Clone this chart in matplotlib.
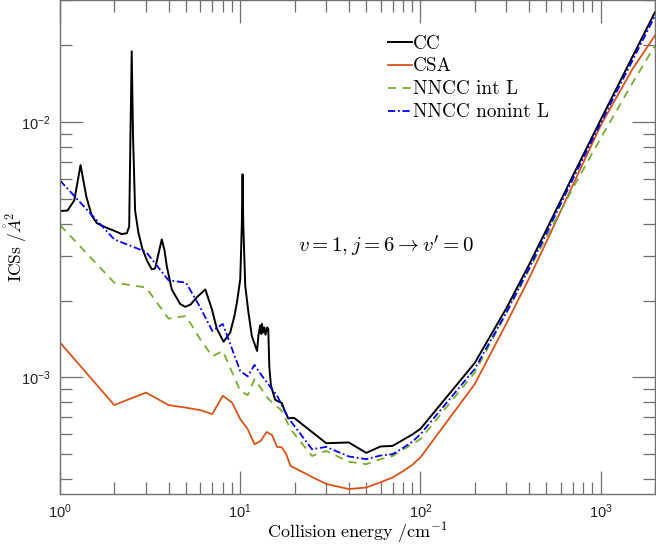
import matplotlib
matplotlib.use("Agg")
import matplotlib.pyplot as plt
from matplotlib.ticker import LogLocator, NullFormatter

# ---------------- data ----------------
cc_E = [1.0, 1.1, 1.2, 1.3, 1.4, 1.5, 1.6, 1.8, 2.0, 2.2, 2.35, 2.42, 2.46, 2.50, 2.54, 2.61,
        2.72, 2.87, 3.05, 3.23, 3.37, 3.5, 3.67, 3.8, 3.91, 4.17, 4.64, 4.95, 5.3, 5.74, 6.4,
        6.96, 7.42, 8.08, 8.8, 9.3, 9.59, 10.0, 10.2, 10.3, 10.4, 10.66, 11.1, 11.6, 12.4,
        12.6, 12.9, 13.1, 13.2, 13.4, 13.6, 13.8, 14.1, 14.3, 14.5, 14.8, 15.6, 16.0, 17.0,
        17.8, 18.5, 19.4, 20, 30, 40, 50, 60, 70, 80, 90, 100, 200, 300, 400, 500, 700,
        1000, 1500, 2000]
cc_val = [4.48e-3, 4.5e-3, 4.93e-3, 6.78e-3, 5.1e-3, 4.3e-3, 4.02e-3, 3.86e-3, 3.75e-3, 3.64e-3,
          3.67e-3, 3.9e-3, 9.0e-3, 1.89e-2, 9.0e-3, 4.5e-3, 3.7e-3, 3.17e-3, 2.85e-3, 2.65e-3,
          2.67e-3, 3.0e-3, 3.47e-3, 3.15e-3, 2.73e-3, 2.21e-3, 1.94e-3, 1.89e-3, 1.93e-3,
          2.06e-3, 2.21e-3, 1.85e-3, 1.55e-3, 1.38e-3, 1.5e-3, 1.75e-3, 1.97e-3, 2.42e-3,
          3.92e-3, 6.24e-3, 3.92e-3, 2.28e-3, 1.8e-3, 1.45e-3, 1.27e-3, 1.45e-3, 1.6e-3,
          1.48e-3, 1.62e-3, 1.5e-3, 1.57e-3, 1.47e-3, 1.57e-3, 1.55e-3, 1.1e-3, 9.3e-4,
          8.2e-4, 8.1e-4, 7.95e-4, 7.3e-4, 6.91e-4, 6.95e-4, 6.93e-4, 5.53e-4, 5.57e-4,
          5.07e-4, 5.37e-4, 5.4e-4, 5.7e-4, 5.98e-4, 6.3e-4, 1.14e-3, 1.87e-3, 2.76e-3,
          3.79e-3, 6.15e-3, 1.02e-2, 1.8e-2, 2.69e-2]

csa_E = [1, 2, 3, 4, 5, 6, 7, 8, 9, 10, 11, 12, 13, 14, 15, 16, 17, 18, 19, 20, 25, 30, 40,
         50, 60, 70, 80, 90, 100, 200, 300, 400, 500, 700, 1000, 1500, 2000]
csa_val = [1.37e-3, 7.8e-4, 8.73e-4, 7.8e-4, 7.62e-4, 7.45e-4, 7.19e-4, 8.48e-4, 7.98e-4,
           6.87e-4, 6.28e-4, 5.48e-4, 5.65e-4, 6.12e-4, 5.96e-4, 5.35e-4, 5.33e-4, 5.01e-4,
           4.51e-4, 4.43e-4, 4.08e-4, 3.83e-4, 3.66e-4, 3.71e-4, 3.89e-4, 4.06e-4, 4.3e-4,
           4.55e-4, 4.87e-4, 9.42e-4, 1.63e-3, 2.44e-3, 3.4e-3, 5.66e-3, 9.7e-3, 1.61e-2,
           2.18e-2]

nn_int_E = [1, 2, 3, 4, 5, 6, 7, 8, 10, 11, 12, 13, 14, 15, 16, 17, 18, 19, 25, 30, 40, 50,
            60, 70, 100, 200, 300, 400, 500, 700, 1000, 1500, 2000]
nn_int_val = [3.95e-3, 2.35e-3, 2.25e-3, 1.70e-3, 1.74e-3, 1.41e-3, 1.21e-3, 1.27e-3, 8.87e-4,
              8.53e-4, 9.85e-4, 9.1e-4, 8.4e-4, 8.0e-4, 7.7e-4, 7.4e-4, 6.8e-4, 6.28e-4,
              4.93e-4, 5.16e-4, 4.68e-4, 4.58e-4, 4.79e-4, 4.93e-4, 5.74e-4, 1.046e-3,
              1.79e-3, 2.64e-3, 3.55e-3, 5.5e-3, 8.65e-3, 1.42e-2, 1.99e-2]

nn_nonint_E = [1, 2, 3, 4, 5, 6, 7, 8, 10, 11, 12, 13, 14, 15, 16, 17, 18, 19, 25, 30, 40,
               50, 60, 70, 80, 90, 100, 200, 300, 400, 500, 700, 1000, 1500, 2000]
nn_nonint_val = [5.9e-3, 3.47e-3, 3.1e-3, 2.4e-3, 2.35e-3, 1.88e-3, 1.52e-3, 1.62e-3, 1.06e-3,
                 1.01e-3, 1.12e-3, 1.03e-3, 9.6e-4, 9.0e-4, 8.5e-4, 7.8e-4, 7.2e-4, 6.77e-4,
                 5.24e-4, 5.35e-4, 4.91e-4, 4.79e-4, 4.95e-4, 5.01e-4, 5.3e-4, 5.6e-4, 6.0e-4,
                 1.08e-3, 1.80e-3, 2.67e-3, 3.67e-3, 5.97e-3, 9.9e-3, 1.74e-2, 2.6e-2]

labels = ["CC", "CSA", "NNCC int L", "NNCC nonint L"]
annotation = r"$v=1, j=6 \rightarrow v'=0$"

# ---------------- figure ----------------
plt.rcParams['font.family'] = ['Liberation Sans', 'DejaVu Sans']
fig = plt.figure(figsize=(6.56, 5.44), dpi=100)
ax = fig.add_axes([60/656, 50/544, 595/656, 494/544])

ax.plot(cc_E, cc_val, color='black', lw=1.4, label=labels[0])
ax.plot(csa_E, csa_val, color='#D95319', lw=1.3, label=labels[1])
ax.plot(nn_int_E, nn_int_val, color='#77AC30', lw=1.3, ls=(0, (4.5, 3.5)), label=labels[2])
ax.plot(nn_nonint_E, nn_nonint_val, color='blue', lw=1.3, ls=(0, (4, 1.5, 1, 1.5)),
        label=labels[3])

ax.set_xscale('log')
ax.set_yscale('log')
ax.set_xlim(1, 2000)
ax.set_ylim(3.5e-4, 3.0e-2)

gray = '#707070'
for s in ax.spines.values():
    s.set_color(gray)
    s.set_linewidth(1.0)
ax.tick_params(which='both', direction='in', top=True, right=True, colors=gray,
               labelcolor='#222222', labelsize=10.5)
ax.tick_params(which='major', length=16.5, width=0.9, pad=6)
ax.tick_params(which='minor', length=8.4, width=0.9)
ax.tick_params(axis='y', which='major', pad=7)
ax.xaxis.set_major_locator(LogLocator(base=10, numticks=10))
ax.xaxis.set_minor_locator(LogLocator(base=10, subs=range(2, 10), numticks=10))
ax.yaxis.set_major_locator(LogLocator(base=10, numticks=10))
ax.yaxis.set_minor_locator(LogLocator(base=10, subs=range(2, 10), numticks=10))
ax.xaxis.set_minor_formatter(NullFormatter())
ax.yaxis.set_minor_formatter(NullFormatter())

ax.set_xlabel(r"$\mathrm{Collision\ energy\ /cm^{-1}}$", fontsize=13,
              math_fontfamily='cm')
ax.xaxis.set_label_coords(0.5, -0.051)
ax.set_ylabel(r"$\mathrm{ICSs\ /}\mathring{A}^2$", fontsize=12.5,
              math_fontfamily='cm')
ax.yaxis.set_label_coords(-0.052, 0.5)

ax.text(21.0, 3.09e-3, annotation, fontsize=15, math_fontfamily='cm',
        ha='left', va='baseline')

leg = ax.legend(loc='upper left', bbox_to_anchor=(0.551, 0.93), frameon=False,
                handlelength=1.25, handletextpad=0.08, labelspacing=0.26,
                borderaxespad=0, borderpad=0,
                prop={'family': ['cmr10'], 'size': 13.8})

fig.savefig('out.png', dpi=100)
